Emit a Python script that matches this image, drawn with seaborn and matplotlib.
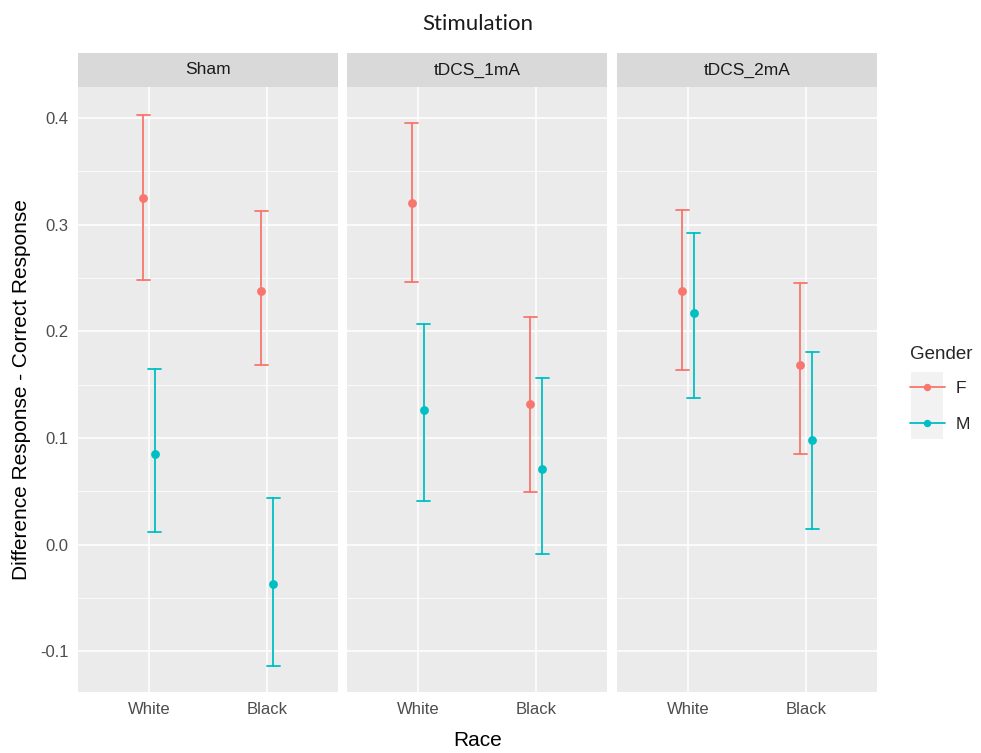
import numpy as np
import pandas as pd
import matplotlib
matplotlib.use("Agg")
import matplotlib.pyplot as plt
from matplotlib.lines import Line2D
from matplotlib.patches import Rectangle
from matplotlib.ticker import MultipleLocator
import seaborn as sns

# ---------------------------------------------------------------------
# Data
# ---------------------------------------------------------------------
stimulations = ["Sham", "tDCS_1mA", "tDCS_2mA"]
races = ["White", "Black"]
genders = ["F", "M"]

# order of rows: (White,F), (White,M), (Black,F), (Black,M)
sham_mean = [0.325, 0.085, 0.238, -0.037]
sham_lo = [0.248, 0.012, 0.168, -0.114]
sham_hi = [0.403, 0.165, 0.313, 0.044]

tdcs1_mean = [0.320, 0.126, 0.132, 0.071]
tdcs1_lo = [0.246, 0.041, 0.049, -0.009]
tdcs1_hi = [0.395, 0.207, 0.213, 0.156]

tdcs2_mean = [0.238, 0.217, 0.168, 0.098]
tdcs2_lo = [0.164, 0.138, 0.085, 0.015]
tdcs2_hi = [0.314, 0.292, 0.245, 0.181]

gender_colors = {"F": "#F8766D", "M": "#00BFC4"}

# long table: each group gets lo / mean / hi rows -> median = mean, min/max = CI
stats = {
    "Sham": (sham_lo, sham_mean, sham_hi),
    "tDCS_1mA": (tdcs1_lo, tdcs1_mean, tdcs1_hi),
    "tDCS_2mA": (tdcs2_lo, tdcs2_mean, tdcs2_hi),
}
rows = []
for stim in stimulations:
    lo, mean, hi = stats[stim]
    i = 0
    for race in races:
        for g in genders:
            for v in (lo[i], mean[i], hi[i]):
                rows.append({"Stimulation": stim, "Race": race, "Gender": g, "value": v})
            i += 1
df = pd.DataFrame(rows)

# ---------------------------------------------------------------------
# Plot
# ---------------------------------------------------------------------
sns.set_style("white")
plt.rcParams["font.family"] = ["Liberation Sans", "DejaVu Sans"]

W, H = 981, 753
fig = plt.figure(figsize=(W / 100, H / 100), dpi=100)

panel_left = [78, 347, 617]
panel_w = 260
panel_top, panel_bot = 87, 692
strip_top = 53

axes = []
for k, stim in enumerate(stimulations):
    x0 = panel_left[k] / W
    ax = fig.add_axes([x0, 1 - panel_bot / H, panel_w / W, (panel_bot - panel_top) / H])
    ax.set_facecolor("#EBEBEB")
    sub = df[df["Stimulation"] == stim]
    sns.pointplot(
        data=sub, x="Race", y="value", hue="Gender",
        order=races, hue_order=genders, palette=gender_colors,
        estimator="median", errorbar=lambda v: (v.min(), v.max()),
        dodge=0.1, linestyle="none", capsize=0.11,
        markers="o", markersize=4.3, err_kws={"linewidth": 1.3},
        legend=False, ax=ax,
    )
    ax.set_xlim(-0.6, 1.6)
    ax.set_ylim(-0.138, 0.429)
    ax.yaxis.set_major_locator(MultipleLocator(0.1))
    ax.yaxis.set_minor_locator(MultipleLocator(0.05))
    ax.grid(True, which="major", color="white", linewidth=1.1)
    ax.grid(True, which="minor", axis="y", color="white", linewidth=0.55)
    ax.set_axisbelow(True)
    for s in ax.spines.values():
        s.set_visible(False)
    ax.tick_params(axis="x", which="major", length=4, width=1, color="#333333",
                   labelsize=12, labelcolor="#4D4D4D", pad=3)
    ax.tick_params(axis="y", which="minor", length=0)
    if k == 0:
        ax.tick_params(axis="y", which="major", length=4, width=1, color="#333333",
                       labelsize=12, labelcolor="#4D4D4D", pad=3)
        ax.set_yticks([-0.1, 0.0, 0.1, 0.2, 0.3, 0.4])
        ax.set_yticklabels(["-0.1", "0.0", "0.1", "0.2", "0.3", "0.4"])
    else:
        ax.tick_params(axis="y", which="major", length=0, labelleft=False)
    ax.set_xlabel("")
    ax.set_ylabel("")
    axes.append(ax)

    # facet strip
    sax = fig.add_axes([x0, 1 - panel_top / H, panel_w / W, (panel_top - strip_top) / H])
    sax.set_facecolor("#D9D9D9")
    sax.set_xticks([])
    sax.set_yticks([])
    for s in sax.spines.values():
        s.set_visible(False)
    sax.text(0.5, 0.5, stim, ha="center", va="center", fontsize=12.5, color="#1A1A1A",
             transform=sax.transAxes)

# titles
fig.text(478 / W, 1 - 24 / H, "Stimulation", ha="center", va="center",
         fontsize=16, color="#1A1A1A", family=["Lato", "DejaVu Sans"])
fig.text(478 / W, 1 - 741 / H, "Race", ha="center", va="center", fontsize=15, color="black")
fig.text(22 / W, 1 - 390 / H, "Difference Response - Correct Response", ha="center",
         va="center", rotation=90, fontsize=15, color="black")

# legend
fig.patches.append(Rectangle((911 / W, 1 - 439 / H), 32 / W, 67 / H,
                             transform=fig.transFigure, facecolor="#F2F2F2",
                             edgecolor="none", zorder=0))
handles = [Line2D([], [], color=gender_colors[g], marker="o", markersize=4.3, linewidth=1.3)
           for g in genders]
leg = fig.legend(handles, genders, title="Gender", loc="upper left",
                 bbox_to_anchor=(910 / W, 1 - 346 / H), frameon=False,
                 fontsize=12.5, title_fontsize=13.5, handlelength=2.0,
                 handletextpad=0.6, labelspacing=1.2, borderpad=0.0,
                 borderaxespad=0.0)
leg._legend_box.align = "left"
leg._legend_box.sep = 13

fig.savefig("out.png", dpi=100)
